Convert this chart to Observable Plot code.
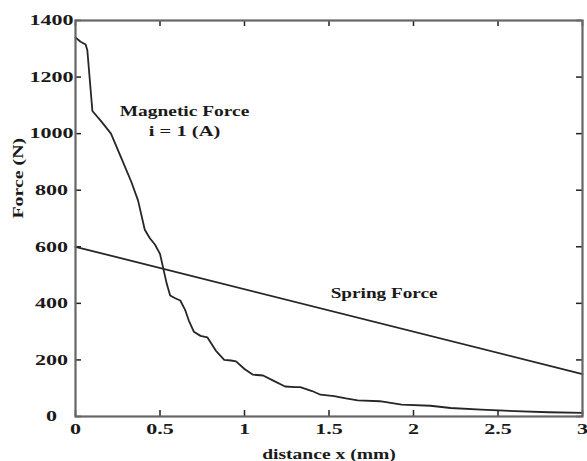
<!DOCTYPE html>
<html>
<head>
<meta charset="utf-8">
<script src="https://cdn.jsdelivr.net/npm/d3@7"></script>
<script src="https://cdn.jsdelivr.net/npm/@observablehq/plot@0.6"></script>
<style>
  html, body { margin: 0; padding: 0; background: #fff; }
  svg text { fill: #1a1a1a; }
</style>
</head>
<body>
<div id="chart"></div>
<script>
// Magnetic force curve, i = 1 (A)
const magX = [0, 0.03, 0.06, 0.07, 0.10, 0.15, 0.21, 0.27, 0.33, 0.37, 0.41, 0.44, 0.47, 0.50, 0.52, 0.54, 0.56, 0.59, 0.62, 0.65, 0.67, 0.70, 0.74, 0.78, 0.83, 0.88, 0.92, 0.95, 1.00, 1.05, 1.11, 1.17, 1.24, 1.30, 1.33, 1.40, 1.45, 1.53, 1.60, 1.67, 1.80, 1.93, 2.10, 2.22, 2.40, 2.60, 2.80, 3.00];
const magF = [1340, 1325, 1315, 1295, 1080, 1045, 1000, 915, 830, 764, 660, 630, 608, 575, 522, 469, 428, 418, 410, 375, 340, 300, 285, 280, 233, 200, 198, 195, 168, 148, 145, 127, 106, 104, 104, 90, 77, 72, 64, 57, 54, 42, 38, 30, 24, 19, 15, 13];
// Spring force (linear)
const springX = [0, 3];
const springF = [600, 150];
// Tick labels
const xTicks = [0, 0.5, 1, 1.5, 2, 2.5, 3];
const xTickLabels = ["0", "0.5", "1", "1.5", "2", "2.5", "3"];
const yTicks = [0, 200, 400, 600, 800, 1000, 1200, 1400];
const yTickLabels = ["0", "200", "400", "600", "800", "1000", "1200", "1400"];
// Annotations
const noteText = ["Magnetic Force", "i = 1 (A)", "Spring Force"];
const noteX = [0.645, 0.645, 1.826];
const noteF = [1077, 1007, 436];
const xLabel = "distance x (mm)";
const yLabel = "Force (N)";

const mag = magX.map((x, i) => ({x, F: magF[i]}));
const spring = springX.map((x, i) => ({x, F: springF[i]}));
const notes = noteText.map((t, i) => ({t, x: noteX[i], F: noteF[i]}));

const lineColor = "#262626";
const frameColor = "#666";
const tickColor = "#222";
const W = 587, H = 461, mL = 75, mR = 5, mT = 20, mB = 45;
const frameW = W - mL - mR, frameH = H - mT - mB, tickLen = 6;

const plot = Plot.plot({
  width: W,
  height: H,
  marginLeft: mL,
  marginRight: mR,
  marginTop: mT,
  marginBottom: mB,
  style: {fontFamily: "'Liberation Serif', 'Times New Roman', serif", fontSize: "15px", background: "#fff", color: "#1a1a1a"},
  x: {domain: [0, 3]},
  y: {domain: [0, 1400]},
  marks: [
    Plot.line(spring, {x: "x", y: "F", stroke: lineColor, strokeWidth: 1.8}),
    Plot.line(mag, {x: "x", y: "F", stroke: lineColor, strokeWidth: 1.8}),
    // inward ticks on all four sides
    Plot.tickX(xTicks, {x: d => d, insetTop: frameH - tickLen, stroke: tickColor, strokeWidth: 1.5}),
    Plot.tickX(xTicks, {x: d => d, insetBottom: frameH - tickLen, stroke: tickColor, strokeWidth: 1.5}),
    Plot.tickY(yTicks, {y: d => d, insetRight: frameW - tickLen, stroke: tickColor, strokeWidth: 1.5}),
    Plot.tickY(yTicks, {y: d => d, insetLeft: frameW - tickLen, stroke: tickColor, strokeWidth: 1.5}),
    Plot.axisX(xTicks, {anchor: "bottom", tickSize: 0, tickFormat: (d, i) => xTickLabels[i], tickPadding: 7, label: null}),
    Plot.axisY(yTicks, {anchor: "left", tickSize: 0, textAnchor: "middle", tickFormat: (d, i) => yTickLabels[i], tickPadding: 24, label: null}),
    Plot.frame({stroke: frameColor, strokeWidth: 2.2}),
    Plot.text(notes, {x: "x", y: "F", text: "t", fontSize: 14, textAnchor: "middle", lineAnchor: "middle", fill: "#1a1a1a"}),
    Plot.text([xLabel], {frameAnchor: "bottom", text: d => d, dy: 38, fontSize: 14, lineAnchor: "middle", fill: "#1a1a1a"}),
    Plot.text([yLabel], {frameAnchor: "left", text: d => d, dx: -57, rotate: -90, fontSize: 14, lineAnchor: "middle", fill: "#1a1a1a"})
  ]
});

document.getElementById("chart").appendChild(plot);

// the reference typeface is wider and heavier than Times: widen glyphs in place
const STRETCH = 1.47;
plot.querySelectorAll("text").forEach(t => {
  const spans = t.querySelectorAll("tspan");
  const targets = spans.length ? Array.from(spans) : [t];
  targets.forEach(el => {
    if (!el.textContent) return;
    const len = el.getComputedTextLength();
    if (len > 0) {
      el.style.fontWeight = "bold";
      el.setAttribute("textLength", (len * STRETCH).toFixed(2));
      el.setAttribute("lengthAdjust", "spacingAndGlyphs");
    }
  });
});
</script>
</body>
</html>
